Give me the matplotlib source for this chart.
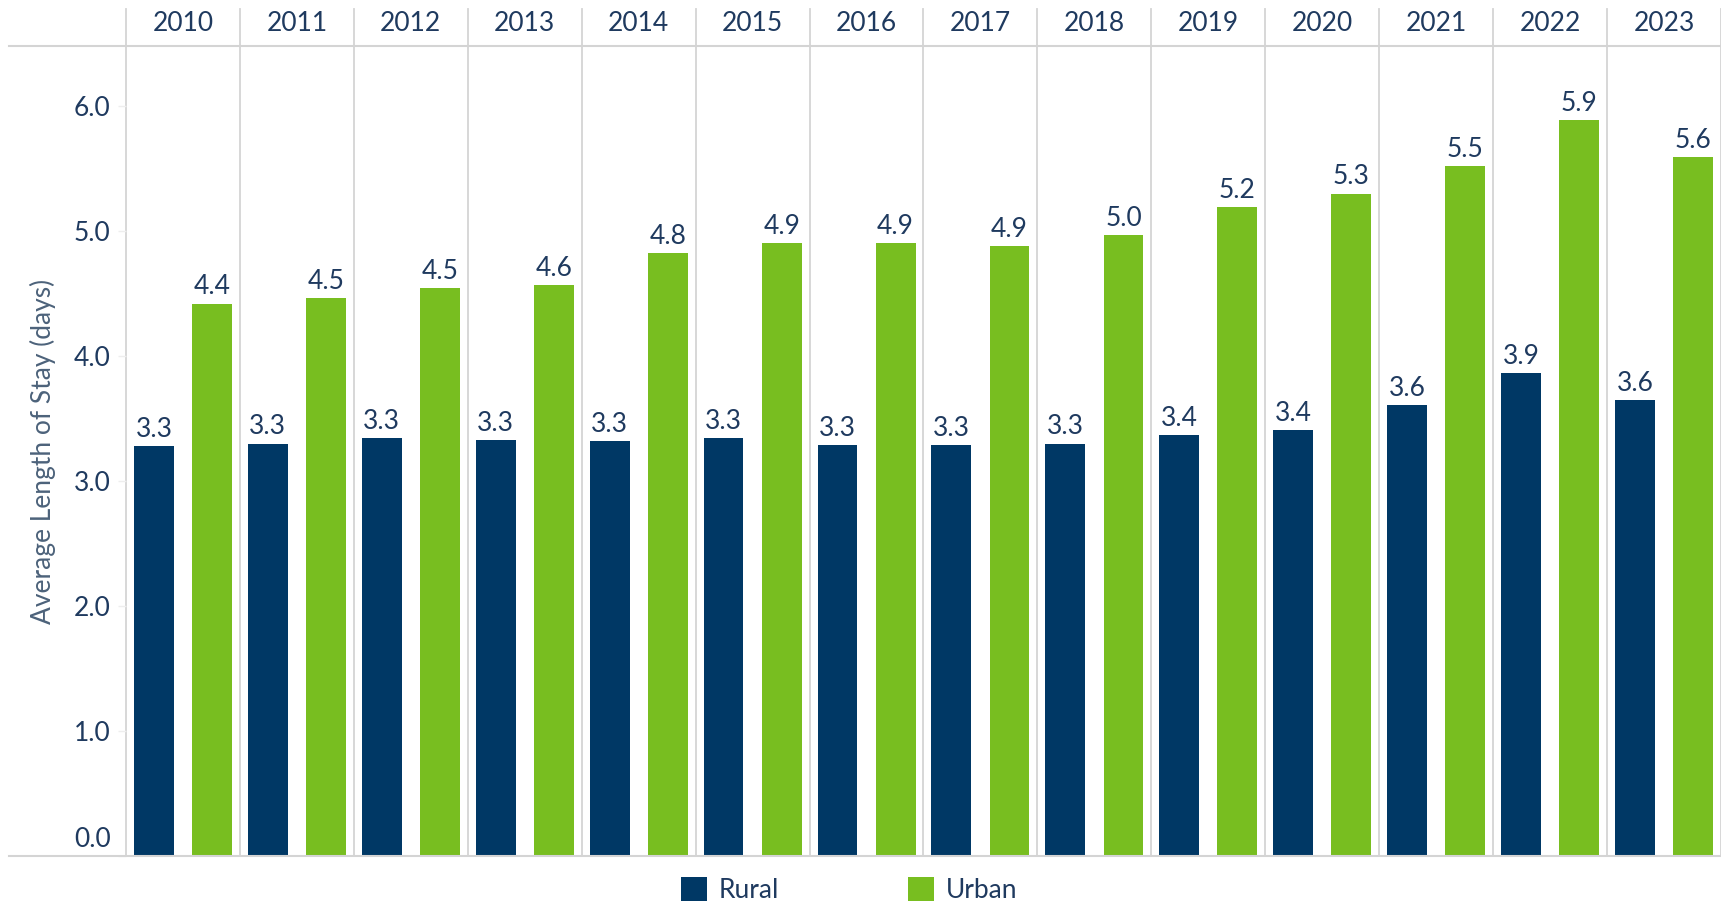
import matplotlib
matplotlib.use("Agg")
import matplotlib.pyplot as plt
import matplotlib.transforms as mtransforms
from matplotlib.lines import Line2D
from matplotlib.patches import Patch
import numpy as np

# ------------------------------------------------------------
# Data
# ------------------------------------------------------------
years = ["2010", "2011", "2012", "2013", "2014", "2015", "2016",
         "2017", "2018", "2019", "2020", "2021", "2022", "2023"]
rural = [3.28, 3.30, 3.34, 3.33, 3.32, 3.34, 3.29,
         3.29, 3.30, 3.37, 3.41, 3.61, 3.86, 3.65]
urban = [4.42, 4.46, 4.54, 4.57, 4.82, 4.90, 4.90,
         4.88, 4.97, 5.19, 5.30, 5.52, 5.89, 5.59]
y_ticks = [0, 1, 2, 3, 4, 5, 6]

RURAL_COLOR = "#003865"
URBAN_COLOR = "#78BE20"
TEXT_COLOR = "#1F3A5F"
AXIS_LABEL_COLOR = "#4C627A"
LINE_COLOR = "#D4D4D4"
FS = 19

plt.rcParams["font.family"] = ["Lato", "DejaVu Sans"]

W, H = 1721, 905
fig = plt.figure(figsize=(W / 100, H / 100), dpi=100)

# axes box in pixels: left 126, right 1721, top 46, bottom 856
left, right, top, bottom = 126, 1721, 46, 856
ax = fig.add_axes([left / W, (H - bottom) / H, (right - left) / W, (bottom - top) / H])

x = np.arange(len(years))
bar_w = 0.35
ax.bar(x + 0.245, rural, width=bar_w, color=RURAL_COLOR, edgecolor="none")
ax.bar(x + 0.755, urban, width=bar_w, color=URBAN_COLOR, edgecolor="none")

# value labels above the bars
for xi, r, u in zip(x, rural, urban):
    ax.annotate(f"{r:.1f}", (xi + 0.245, r), xytext=(0, 3), textcoords="offset points",
                ha="center", va="bottom", fontsize=FS, color=TEXT_COLOR)
    ax.annotate(f"{u:.1f}", (xi + 0.755, u), xytext=(0, 3), textcoords="offset points",
                ha="center", va="bottom", fontsize=FS, color=TEXT_COLOR)

ax.set_xlim(0, len(years))
ax.set_ylim(0, 6.48)
ax.set_xticks([])
ax.set_yticks(y_ticks)
ax.set_yticklabels([f"{v:.1f}" for v in y_ticks])
ax.tick_params(axis="y", length=6, width=1, color="#EEEEEE", labelcolor=TEXT_COLOR,
               labelsize=FS, pad=5)

# nudge the 0.0 label up like the original
zero_lbl = ax.get_yticklabels()[0]
zero_lbl.set_transform(zero_lbl.get_transform() +
                       mtransforms.ScaledTranslation(0, 14 / 72, fig.dpi_scale_trans))

for s in ax.spines.values():
    s.set_visible(False)

ax.set_ylabel("Average Length of Stay (days)", fontsize=FS, color=AXIS_LABEL_COLOR)
ax.yaxis.set_label_coords(-0.044, 0.5)

# panel separators, extending up into the header row
header_top = (bottom - 9) / (bottom - top)
for i in range(len(years) + 1):
    ax.axvline(i, ymin=0, ymax=header_top, color=LINE_COLOR, lw=1.3, clip_on=False, zorder=0)

# year headers
for i, yr in enumerate(years):
    ax.text(i + 0.5, 1 + 22 / (bottom - top), yr, transform=ax.get_xaxis_transform(),
            ha="center", va="center", fontsize=FS, color=TEXT_COLOR)

# header line and baseline across the figure
for ypix in (top, bottom):
    fig.add_artist(Line2D([9 / W, 1], [(H - ypix) / H] * 2, color=LINE_COLOR, lw=1.5))

# legend at the bottom edge
handles = [Patch(facecolor=RURAL_COLOR, label="Rural"),
           Patch(facecolor=URBAN_COLOR, label="Urban")]
fig.legend(handles=handles, loc="upper center", bbox_to_anchor=(849 / W, 1 - 877 / H),
           ncol=2, frameon=False, fontsize=FS, handlelength=1.0, handleheight=1.0,
           handletextpad=0.42, columnspacing=4.9, borderpad=0, borderaxespad=0,
           labelcolor=TEXT_COLOR)

fig.savefig("out.png", dpi=100)
